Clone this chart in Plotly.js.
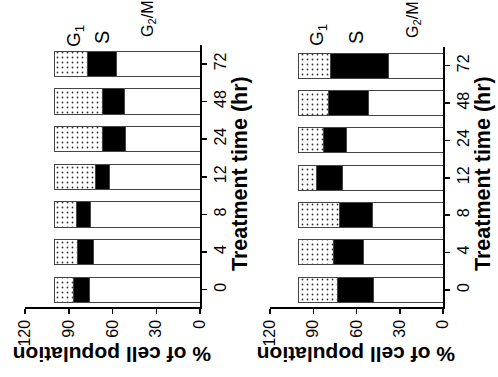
<!DOCTYPE html>
<html>
<head>
<meta charset="utf-8">
<script src="https://cdn.plot.ly/plotly-3.0.1.min.js"></script>
<style>html,body{margin:0;padding:0;background:#fff;}#chart{width:498px;height:377px;}</style>
</head>
<body>
<div id="chart"></div>
<script>
// Treatment time categories (hr)
const times = ['0', '4', '8', '12', '24', '48', '72'];
// Left panel (% of cell population)
const g2mA = [76, 73, 75, 62, 51, 52, 57];
const sA   = [11, 11, 9.5, 9.5, 16, 15, 20];
const g1A  = [13, 16, 15.5, 28.5, 33, 33, 23];
// Right panel
const g2mB = [48, 55, 49, 70, 67, 51.5, 38];
const sB   = [25.5, 21, 22.5, 17.5, 16, 28, 40];
const g1B  = [26.5, 24, 28.5, 12.5, 17, 20.5, 22];
const valueTicks = [0, 30, 60, 90, 120];

const W = 498, H = 377;
const px = v => v / W, py = v => 1 - v / H;
const FONT = 'Liberation Sans, Arial, sans-serif';
const lineStyle = {color: '#444', width: 1};

function bars(g2m, s, g1, xa, ya) {
  return [
    {type: 'bar', orientation: 'h', y: times, x: g2m, xaxis: xa, yaxis: ya, width: 0.67,
     marker: {color: '#ffffff', line: lineStyle}, hoverinfo: 'skip', showlegend: false},
    {type: 'bar', orientation: 'h', y: times, x: s, xaxis: xa, yaxis: ya, width: 0.67,
     marker: {color: '#000000', line: lineStyle}, hoverinfo: 'skip', showlegend: false},
    {type: 'bar', orientation: 'h', y: times, x: g1, xaxis: xa, yaxis: ya, width: 0.67,
     marker: {color: '#ffffff', line: lineStyle,
              pattern: {shape: '.', fgcolor: '#333', bgcolor: '#fff', size: 5, solidity: 0.1}},
     hoverinfo: 'skip', showlegend: false}
  ];
}

const data = [].concat(bars(g2mA, sA, g1A, 'x', 'y'), bars(g2mB, sB, g1B, 'x2', 'y2'));

function valueAxis(d0, d1, anchor) {
  return {domain: [px(d0), px(d1)], anchor: anchor, range: [120, 0], autorange: false,
          tickvals: valueTicks, ticktext: valueTicks.map(String), tickangle: -90,
          ticks: 'outside', ticklen: 5, tickwidth: 1.5, tickcolor: '#000',
          showline: true, linecolor: '#000', linewidth: 1.5, showgrid: false, zeroline: false,
          tickfont: {family: FONT, size: 16, color: '#000'}, fixedrange: true};
}
function catAxis(top, anchor) {
  return {domain: [py(307), py(top)], anchor: anchor, side: 'right', type: 'category',
          categoryorder: 'array', categoryarray: times,
          range: [-0.46, 6.5], autorange: false, tickangle: -90,
          ticks: 'outside', ticklen: 5, tickwidth: 1.5, tickcolor: '#000',
          showline: true, linecolor: '#000', linewidth: 1.5, showgrid: false, zeroline: false,
          tickfont: {family: FONT, size: 16, color: '#000'}, fixedrange: true};
}

function ann(text, x, y, angle, size, bold) {
  return {text: bold ? '<b>' + text + '</b>' : text, xref: 'paper', yref: 'paper',
          x: px(x), y: py(y), xanchor: 'center', yanchor: 'middle', showarrow: false,
          textangle: angle, font: {family: FONT, size: size, color: '#000'}};
}

const layout = {
  width: W, height: H, margin: {l: 0, r: 0, t: 0, b: 0},
  paper_bgcolor: '#fff', plot_bgcolor: 'rgba(0,0,0,0)',
  barmode: 'stack', bargap: 0.33,
  font: {family: FONT},
  xaxis: valueAxis(25, 200, 'y'),
  yaxis: catAxis(45, 'x'),
  xaxis2: valueAxis(270, 443, 'y2'),
  yaxis2: catAxis(47, 'x2'),
  annotations: [
    ann('Treatment time (hr)', 240, 174, -90, 21.5, true),
    ann('Treatment time (hr)', 483, 174, -90, 21.5, true),
    ann('% of cell population', 112, 355, 180, 21, true),
    ann('% of cell population', 356, 355, 180, 21, true),
    ann('G<sub>1</sub>', 75, 36, -90, 19, false),
    ann('S', 102, 38, -90, 20, false),
    ann('G<sub>2</sub>/M', 148, 19, -90, 16, false),
    ann('G<sub>1</sub>', 318, 35, -90, 19, false),
    ann('S', 356, 38, -90, 20, false),
    ann('G<sub>2</sub>/M', 414, 20, -90, 16, false)
  ]
};

Plotly.newPlot('chart', data, layout, {displayModeBar: false, staticPlot: true});
</script>
</body>
</html>
